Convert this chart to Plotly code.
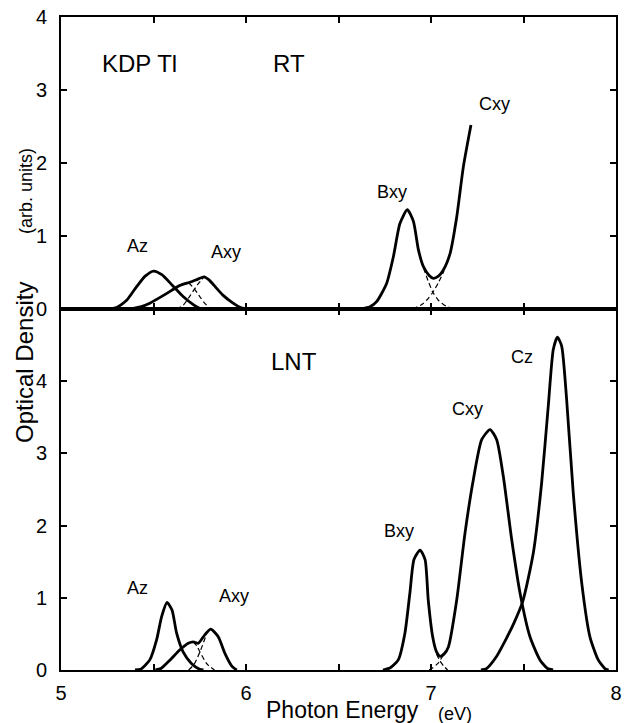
import plotly.graph_objects as go
from plotly.subplots import make_subplots

# ---------------- data ----------------
# Room temperature (RT) panel
rt_az_e = [5.25, 5.30, 5.355, 5.41, 5.455, 5.50, 5.545, 5.60, 5.66, 5.715, 5.75, 5.78]
rt_az_od = [0.0, 0.02, 0.12, 0.31, 0.45, 0.52, 0.47, 0.33, 0.17, 0.06, 0.01, 0.0]

rt_axy_e = [5.37, 5.43, 5.48, 5.57, 5.64, 5.70, 5.74, 5.773, 5.80, 5.825, 5.875, 5.93, 5.97, 6.00]
rt_axy_od = [0.0, 0.03, 0.08, 0.21, 0.32, 0.37, 0.41, 0.44, 0.40, 0.33, 0.19, 0.08, 0.02, 0.0]

rt_axy_d1_e = [5.625, 5.66, 5.70, 5.74, 5.773]
rt_axy_d1_od = [0.0, 0.05, 0.19, 0.34, 0.44]
rt_axy_d2_e = [5.69, 5.72, 5.75, 5.78, 5.81]
rt_axy_d2_od = [0.36, 0.28, 0.17, 0.07, 0.0]

rt_bc_e = [6.62, 6.67, 6.706, 6.76, 6.797, 6.832, 6.872, 6.905, 6.932, 6.959, 6.99,
           7.013, 7.04, 7.066, 7.103, 7.139, 7.175, 7.216]
rt_bc_od = [0.0, 0.03, 0.10, 0.35, 0.72, 1.17, 1.36, 1.20, 0.81, 0.58, 0.46,
            0.42, 0.45, 0.53, 0.76, 1.26, 1.95, 2.52]

rt_bxy_d_e = [6.96, 6.985, 7.01, 7.04, 7.08, 7.13]
rt_bxy_d_od = [0.56, 0.38, 0.23, 0.12, 0.04, 0.0]
rt_cxy_d_e = [6.90, 6.95, 6.98, 7.01, 7.04, 7.07]
rt_cxy_d_od = [0.0, 0.06, 0.13, 0.23, 0.36, 0.52]

# Liquid nitrogen temperature (LNT) panel
lnt_az_e = [5.40, 5.43, 5.48, 5.517, 5.544, 5.573, 5.60, 5.625, 5.66, 5.705, 5.75, 5.77]
lnt_az_od = [0.0, 0.01, 0.14, 0.42, 0.74, 0.935, 0.83, 0.51, 0.25, 0.09, 0.01, 0.0]

lnt_axy_e = [5.51, 5.54, 5.59, 5.643, 5.688, 5.715, 5.742, 5.778, 5.81, 5.85, 5.886, 5.923, 5.95]
lnt_axy_od = [0.0, 0.02, 0.14, 0.28, 0.37, 0.39, 0.37, 0.49, 0.565, 0.46, 0.23, 0.055, 0.0]

lnt_axy_d1_e = [5.69, 5.72, 5.751, 5.78]
lnt_axy_d1_od = [0.0, 0.08, 0.25, 0.45]
lnt_axy_d2_e = [5.715, 5.735, 5.751, 5.79, 5.83]
lnt_axy_d2_od = [0.39, 0.33, 0.25, 0.08, 0.0]

lnt_bc_e = [6.74, 6.78, 6.823, 6.859, 6.886, 6.908, 6.941, 6.968, 6.985, 7.009, 7.03,
            7.049, 7.07, 7.094, 7.139, 7.184, 7.229, 7.274, 7.319, 7.355, 7.391,
            7.436, 7.481, 7.535, 7.589, 7.63, 7.66]
lnt_bc_od = [0.0, 0.03, 0.14, 0.51, 1.07, 1.53, 1.66, 1.53, 0.97, 0.46, 0.25,
             0.19, 0.22, 0.32, 0.97, 1.90, 2.64, 3.19, 3.33, 3.19, 2.68,
             1.81, 1.07, 0.46, 0.14, 0.02, 0.0]

lnt_cz_e = [7.27, 7.30, 7.355, 7.40, 7.45, 7.496, 7.553, 7.598, 7.634, 7.661, 7.683, 7.706,
            7.733, 7.769, 7.815, 7.859, 7.904, 7.94, 7.96]
lnt_cz_od = [0.0, 0.02, 0.19, 0.40, 0.66, 0.95, 1.62, 2.59, 3.66, 4.44, 4.61, 4.49,
             3.75, 2.45, 1.20, 0.46, 0.14, 0.02, 0.0]

lnt_bxy_d_e = [7.03, 7.05, 7.07, 7.09]
lnt_bxy_d_od = [0.22, 0.12, 0.05, 0.0]
lnt_cxy_d_e = [6.99, 7.01, 7.04, 7.065]
lnt_cxy_d_od = [0.0, 0.03, 0.10, 0.20]

x_tickvals = [5, 5.5, 6, 6.5, 7, 7.5, 8]
x_ticktext = ["5", "", "6", "", "7", "", "8"]
rt_y_ticks = [0, 1, 2, 3, 4]
lnt_y_ticks = [0, 1, 2, 3, 4, 5]
lnt_y_text = ["0", "1", "2", "3", "4", ""]

# ---------------- figure ----------------
FONT = "Liberation Sans"
fig = make_subplots(rows=2, cols=1, shared_xaxes=False, vertical_spacing=0,
                    row_heights=[292 / 653, 361 / 653])

SOLID = dict(color="black", width=2.8, shape="spline", smoothing=0.6)
DASH = dict(color="black", width=1.2, dash="5px,3px", shape="spline", smoothing=0.6)

def add(e, od, row, dashed=False):
    fig.add_trace(go.Scatter(x=e, y=od, mode="lines", line=DASH if dashed else SOLID,
                             showlegend=False, hoverinfo="skip"), row=row, col=1)

add(rt_az_e, rt_az_od, 1)
add(rt_axy_e, rt_axy_od, 1)
add(rt_axy_d1_e, rt_axy_d1_od, 1, True)
add(rt_axy_d2_e, rt_axy_d2_od, 1, True)
add(rt_bc_e, rt_bc_od, 1)
add(rt_bxy_d_e, rt_bxy_d_od, 1, True)
add(rt_cxy_d_e, rt_cxy_d_od, 1, True)

add(lnt_az_e, lnt_az_od, 2)
add(lnt_axy_e, lnt_axy_od, 2)
add(lnt_axy_d1_e, lnt_axy_d1_od, 2, True)
add(lnt_axy_d2_e, lnt_axy_d2_od, 2, True)
add(lnt_bc_e, lnt_bc_od, 2)
add(lnt_cz_e, lnt_cz_od, 2)
add(lnt_bxy_d_e, lnt_bxy_d_od, 2, True)
add(lnt_cxy_d_e, lnt_cxy_d_od, 2, True)

axis_common = dict(showline=True, linecolor="black", linewidth=2, mirror="ticks",
                   ticks="inside", ticklen=6, tickwidth=1.5, tickcolor="black",
                   showgrid=False, zeroline=False, automargin=False,
                   tickfont=dict(family=FONT, size=20, color="black"))

fig.update_xaxes(range=[5, 8], tickvals=x_tickvals, showticklabels=False,
                 row=1, col=1, **axis_common)
fig.update_xaxes(range=[5, 8], tickvals=x_tickvals, ticktext=x_ticktext,
                 ticklabelstandoff=4, row=2, col=1, **axis_common)
fig.update_yaxes(range=[0, 4], tickvals=rt_y_ticks, ticklabelstandoff=8,
                 row=1, col=1, **axis_common)
fig.update_yaxes(range=[0, 5], tickvals=lnt_y_ticks, ticktext=lnt_y_text,
                 ticklabelstandoff=8, row=2, col=1, **axis_common)

def label(text, x, y, row, size=18):
    fig.add_annotation(text=text, x=x, y=y, xref="x" if row == 1 else "x2",
                       yref="y" if row == 1 else "y2", showarrow=False,
                       xanchor="center", yanchor="middle",
                       font=dict(family=FONT, size=size, color="black"))

label("KDP Tl", 5.427, 3.36, 1, 24)
label("RT", 6.23, 3.36, 1, 24)
label("Az", 5.411, 0.86, 1)
label("Axy", 5.892, 0.78, 1)
label("Bxy", 6.789, 1.60, 1)
label("Cxy", 7.341, 2.81, 1)
label("LNT", 6.259, 4.278, 2, 24)
label("Az", 5.411, 1.14, 2)
label("Axy", 5.935, 1.03, 2)
label("Bxy", 6.827, 1.93, 2)
label("Cxy", 7.195, 3.61, 2)
label("Cz", 7.492, 4.33, 2)

# axis titles (in pixel-derived paper coordinates)
W, H = 624, 723
L, R, T, B = 61, 8, 17, 53
pw, ph = W - L - R, H - T - B

def px_to_paper(px, py):
    return (px - L) / pw, (H - B - py) / ph

def title(text, px, py, size, angle=0):
    xa, ya = px_to_paper(px, py)
    fig.add_annotation(text=text, x=xa, y=ya, xref="paper", yref="paper",
                       xanchor="center", yanchor="middle", textangle=angle,
                       showarrow=False, font=dict(family=FONT, size=size, color="black"))

title("Photon Energy", 342, 710, 23)
title("(eV)", 455, 714, 18)
title("Optical Density", 24, 363, 24, -90)
title("(arb. units)", 26, 191, 18, -90)

fig.update_layout(width=W, height=H, margin=dict(l=L, r=R, t=T, b=B, autoexpand=False),
                  paper_bgcolor="white", plot_bgcolor="white",
                  font=dict(family=FONT, color="black"))

fig.write_html("out.html", config={"displayModeBar": False},
               post_script="document.body.style.margin='0px';")
